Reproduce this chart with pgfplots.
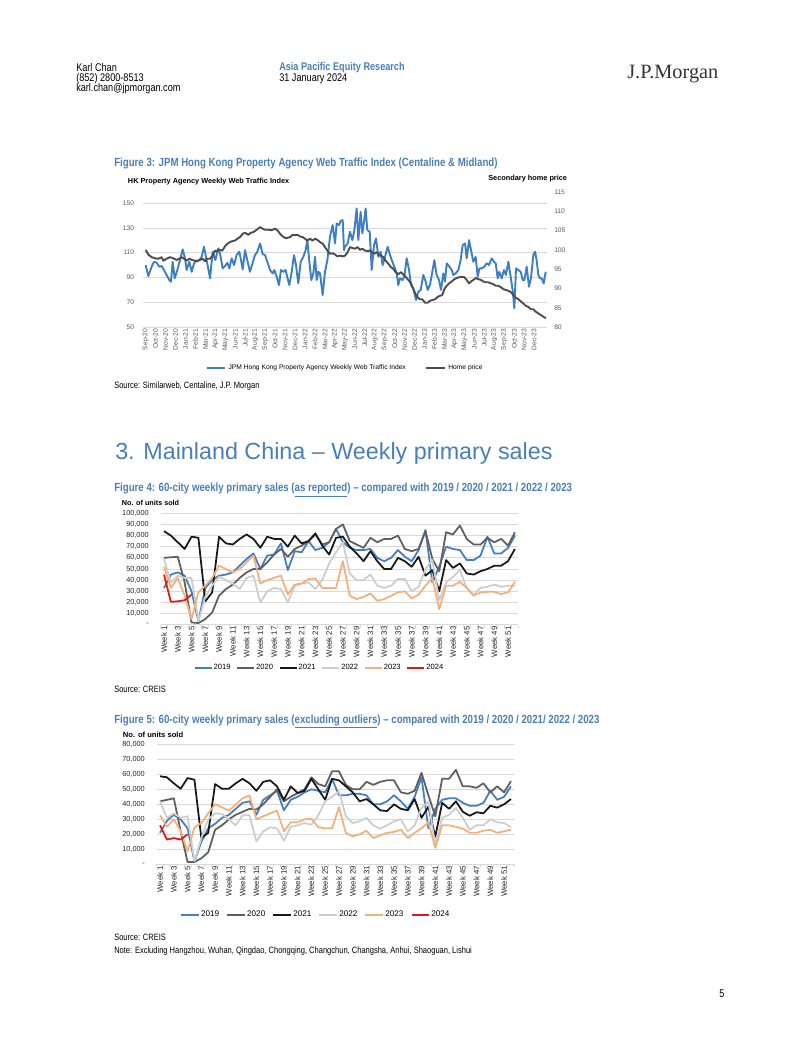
\documentclass[border=0pt]{standalone}
\usepackage{fontspec}
\setmainfont{Liberation Sans}
\newfontfamily\narrow[FakeStretch=0.82]{Liberation Sans}
\newfontfamily\jpserif{Liberation Serif}
\usepackage{pgfplots}
\pgfplotsset{compat=1.18}
\usepackage{pgfplotstable}
\definecolor{jpblue}{RGB}{74,126,187}
\definecolor{c2019}{RGB}{68,126,190}
\definecolor{c2020}{RGB}{95,95,95}
\definecolor{c2021}{RGB}{25,25,25}
\definecolor{c2022}{RGB}{205,205,205}
\definecolor{c2023}{RGB}{244,176,122}
\definecolor{c2024}{RGB}{235,20,20}
\definecolor{webblue}{RGB}{62,126,194}
\definecolor{homegray}{RGB}{77,77,77}
\definecolor{gridgray}{RGB}{217,217,217}
\definecolor{ticklab}{RGB}{89,89,89}

% Figure 3: web traffic index (x = months since Sep-20)
\pgfplotstableread{
m L
0.00 100.0
0.26 91.1
0.60 98.7
0.83 102.7
1.10 101.9
1.37 98.7
1.60 99.2
1.84 96.0
2.10 92.0
2.37 87.9
2.54 86.6
2.71 102.7
2.91 89.3
3.18 96.0
3.44 104.0
3.71 112.7
3.95 105.4
4.11 96.0
4.38 102.7
4.62 94.6
4.85 101.4
5.12 103.5
5.38 104.0
5.62 106.7
5.85 114.8
6.12 104.0
6.46 89.3
6.72 110.8
6.99 104.0
7.29 113.5
7.46 109.4
7.73 97.3
7.96 99.2
8.20 101.9
8.40 97.3
8.63 105.4
8.87 100.0
9.13 108.1
9.40 110.8
9.57 104.0
9.74 96.5
9.97 112.1
10.20 104.0
10.47 94.6
10.74 101.9
10.97 108.1
11.21 110.8
11.48 117.5
11.74 108.9
11.98 108.1
12.21 102.7
12.48 96.0
12.75 93.3
12.92 96.0
13.15 90.6
13.38 83.9
13.58 96.0
13.82 94.6
14.05 96.0
14.22 90.1
14.42 83.9
14.66 94.6
14.89 108.1
15.09 100.0
15.32 85.2
15.56 102.7
15.83 106.7
16.06 112.1
16.23 120.2
16.43 102.7
16.63 87.9
16.83 93.3
17.00 106.7
17.17 87.9
17.33 94.6
17.50 93.3
17.77 75.8
18.00 94.6
18.24 104.0
18.50 122.9
18.77 132.3
19.01 117.5
19.17 133.6
19.41 132.3
19.58 135.8
19.78 136.3
19.91 112.1
20.01 114.8
20.28 117.5
20.51 126.9
20.75 120.2
20.95 128.2
21.18 145.7
21.35 120.2
21.58 143.0
21.75 125.6
21.92 135.0
22.08 145.7
22.25 128.2
22.49 126.9
22.69 96.0
22.92 116.1
23.12 121.5
23.36 106.7
23.59 110.8
23.79 100.0
24.03 106.7
24.29 114.8
24.53 108.1
24.76 102.7
24.96 98.7
25.20 93.3
25.36 83.9
25.53 89.3
25.77 87.9
25.97 90.6
26.20 105.4
26.44 96.0
26.64 83.9
26.87 81.2
27.14 71.8
27.37 78.5
27.61 79.9
27.87 92.0
28.11 86.6
28.31 79.9
28.54 83.9
28.78 94.6
28.98 104.0
29.21 92.0
29.45 87.9
29.65 79.9
29.88 93.3
30.05 86.6
30.22 101.4
30.45 99.2
30.72 96.0
30.89 92.0
31.12 93.3
31.39 96.0
31.62 104.0
31.82 116.1
32.06 117.5
32.23 105.4
32.46 120.2
32.66 112.1
32.89 102.7
33.13 106.7
33.33 90.6
33.50 97.3
33.73 97.3
34.00 98.7
34.23 101.4
34.47 100.0
34.74 105.4
34.97 102.7
35.14 101.4
35.34 89.3
35.50 94.6
35.74 89.3
35.97 96.0
36.17 92.0
36.41 102.7
36.64 90.6
36.84 79.9
37.01 65.1
37.18 97.3
37.41 96.0
37.65 94.6
37.85 87.9
38.02 87.9
38.25 98.7
38.48 82.5
38.68 89.3
38.92 108.1
39.09 110.8
39.25 104.0
39.42 92.0
39.59 89.3
39.76 89.3
39.96 85.2
40.16 94.6
}\webtraffic

% Figure 3: secondary home price (right axis)
\pgfplotstableread{
m R
0.00 100.0
0.26 98.8
0.60 98.1
0.93 97.8
1.27 97.7
1.60 98.1
1.77 97.2
2.10 97.7
2.44 98.1
2.77 97.8
3.11 97.4
3.38 97.7
3.61 98.1
3.85 97.7
4.11 97.2
4.38 97.7
4.62 97.4
4.95 97.2
5.18 97.05
5.45 97.4
5.72 97.7
5.95 97.05
6.12 97.7
6.46 97.7
6.72 98.5
6.96 99.8
7.19 99.7
7.46 100.0
7.69 99.8
7.96 100.9
8.20 101.6
8.46 102.0
8.73 102.3
8.97 102.4
9.20 102.9
9.47 103.3
9.74 104.2
10.00 104.4
10.30 103.9
10.54 104.4
10.81 104.6
11.14 105.2
11.48 105.9
11.74 105.5
11.98 105.2
12.31 105.2
12.65 105.1
12.98 105.5
13.22 105.1
13.48 104.2
13.75 103.5
13.99 103.1
14.22 103.1
14.49 103.3
14.76 103.9
14.99 103.8
15.22 103.9
15.49 103.5
15.76 103.3
15.99 102.9
16.23 102.4
16.50 102.9
16.76 102.4
17.00 102.9
17.23 102.6
17.50 102.0
17.77 101.6
18.00 100.7
18.24 99.8
18.50 99.0
18.77 99.1
19.01 98.8
19.24 98.3
19.51 98.5
19.78 98.3
20.01 98.5
20.28 99.4
20.51 100.7
20.75 100.5
21.01 100.3
21.28 100.7
21.52 100.0
21.75 100.3
22.02 99.8
22.29 99.7
22.52 99.8
22.75 99.4
22.95 99.0
23.19 99.4
23.36 98.8
23.62 98.5
23.86 98.1
24.09 97.2
24.36 96.4
24.63 95.5
24.86 95.1
25.10 94.2
25.36 93.7
25.63 94.2
25.87 93.6
26.10 93.0
26.37 92.2
26.64 91.3
26.87 89.8
27.10 88.5
27.31 87.6
27.54 87.2
27.77 87.2
28.04 86.3
28.31 86.3
28.54 86.8
28.78 87.0
29.05 87.2
29.31 87.8
29.55 88.1
29.78 88.3
29.98 89.8
30.22 90.7
30.45 91.3
30.72 91.8
30.99 92.4
31.22 92.7
31.46 92.9
31.72 93.0
31.99 92.9
32.23 92.2
32.46 91.3
32.66 91.8
32.89 92.2
33.13 92.7
33.40 92.4
33.66 92.2
33.90 91.8
34.13 91.6
34.40 91.6
34.67 91.3
34.90 91.1
35.14 90.7
35.40 90.7
35.67 90.3
35.91 89.8
36.14 89.6
36.41 89.4
36.68 89.0
36.91 88.3
37.15 87.6
37.41 87.2
37.68 86.6
37.91 86.1
38.15 85.5
38.42 85.2
38.68 84.6
38.92 84.6
39.15 84.0
39.42 83.5
39.69 83.1
39.96 82.6
40.19 82.3
}\homeprice

% Figure 4: 60-city weekly primary sales, as reported (thousand units)
\pgfplotstableread{
wk a2019 a2020 a2021 a2022 a2023
1 33 60 84 59 52
2 45 60.5 80 38 33
3 47 61 74 44 42
4 44 38 68 42 26
5 30 2 79 42 5
6 3 1.5 78 3 29
7 33 5 21 25 35
8 40 11 29 35 42
9 44 26 79 43 53
10 45 32 73 40 50
11 47 36 72 37 47
12 53 42 77 32 50
13 59 47 81 42 56
14 64 50 77 44 62
15 50 50 69 20 37
16 62 56 79 30 40
17 63 63 77 33 42
18 73 68 77 32 44
19 49 61 70 20 27
20 66 68 80 35 36
21 65 71 73 37 37
22 75 75 75 38 41
23 67 81 82 32 41.5
24 69 72 71 40 33
25 74 74 63 55 33
26 86 86 78 65 33
27 74 90 79 74 57
28 69 75 70 46 26
29 67 72 64 40 23
30 67 69 57 40 25
31 68 78 66 45 28
32 60 74 57 35 21.5
33 57 77 50 33 23
34 60 77 50 35 26
35 67 80 60 41 29
36 61 68 57 41 30
37 57 66 52 30 23.6
38 67 68 61 34 27
39 85 84 44 50 35
40 38 59 49 58 42
41 52 48 30 22 14
42 70 83 58 38 35
43 68 81 51 43 35
44 67 89 55 49 38.5
45 58 77 46 33 33
46 58 72 45 27 26
47 62 72 48 33 29
48 79 78 50 34 29.5
49 64 74 53 36 29.5
50 64 77 53 34 27.5
51 69 71 57 35 29
52 80 83 68 35 38.5
}\figfour
\pgfplotstableread{
wk a2024
1 45
2 20.5
3 21
4 22
5 27
}\figfourb

% Figure 5: excluding outliers (thousand units)
\pgfplotstableread{
wk a2019 a2020 a2021 a2022 a2023
1 21 42 58.7 42 32.7
2 29 43 58 31 25
3 33 44 54 34 30
4 30 22 50.4 31 22
5 24 1.5 57.5 32 8.7
6 2 1.5 56.4 2 24.7
7 15 4 17.5 17.5 27.5
8 24 8 21 30 34
9 27 23 53.5 34 40
10 31 26 50.4 33.6 38
11 33 30 50.4 30 35.8
12 37 33 54 26 39.8
13 41 35 57 32.7 44
14 42 37 54 32.7 46
15 33 36.5 49 15.3 30
16 43 40 55 22 32
17 46 45 56 24.7 34
18 49 50 52 24 35.8
19 36 42 43 15.8 22
20 43 45 52 25 28
21 45 47.5 47.5 26 28
22 48 50 49 27.5 30
23 50 58 57 26.4 30.4
24 49 53.5 50 32.7 24.7
25 48 52 43 42 24
26 57 62 57 45 24
27 46 62 56 48.7 38
28 46 53 52 32 21
29 47 50 48 27.5 18.7
30 47 50 42 28.7 20
31 46 55 43.5 31 22.4
32 40 53 40 26 17.5
33 40 55 36 23.8 19.3
34 42 56 35.5 26 21
35 46 56 40 28.7 21.6
36 42 48 37 30 23
37 37 47 36 22 17.5
38 45 49 43.5 26 21
39 58 61 31 37.5 24
40 24 46 38.4 42 28
41 37 32 18.4 13 11
42 43 57 41 31 26
43 44 57 37 33 26
44 44 63 42 37.5 25
45 41 52 35 31 23.8
46 39 52 32.4 23 21
47 39 51 34.7 26 21
48 41 54 34 26 22.4
49 49 48 39 30 23
50 43 52 37.8 28 21
51 45 48 40 27.5 22
52 52 55.5 43.5 24.7 23
}\figfive
\pgfplotstableread{
wk a2024
1 26
2 16.5
3 17.5
4 16.5
5 20
}\figfiveb

\pgfplotsset{
  weekaxis/.style={
    scale only axis, width=273.03pt,
    xmin=0.5, xmax=52.5, ymin=0,
    axis line style={draw=none},
    major tick length=0pt,
    tick pos=left,
    xtick={1,3,...,51},
    xticklabels={Week 1,Week 3,Week 5,Week 7,Week 9,Week 11,Week 13,Week 15,Week 17,Week 19,Week 21,Week 23,Week 25,Week 27,Week 29,Week 31,Week 33,Week 35,Week 37,Week 39,Week 41,Week 43,Week 45,Week 47,Week 49,Week 51},
    xticklabel style={rotate=90, anchor=east, font=\fontsize{6}{6.5}\selectfont, text=black!85, inner sep=1pt},
    yticklabel style={font=\fontsize{5.6}{6}\selectfont, text=black!85, xshift=-5.5pt},
    ymajorgrids, grid style={gridgray, line width=0.6pt},
    extra x ticks={0.5,1.5,...,52.5}, extra x tick labels={},
    extra x tick style={grid=none, major tick length=2.2pt, tick align=outside, tick style={gridgray, line width=0.6pt}},
    every axis plot/.append style={line width=1.35pt, line join=round, mark=none},
    legend columns=6,
    legend image code/.code={\draw[#1] (0pt,0pt) -- (13pt,0pt);},
    legend style={draw=none, fill=none, font=\fontsize{5.8}{6}\selectfont, inner sep=0pt,
      nodes={inner sep=0.8pt}},
    clip=false,
  }
}

\begin{document}
\begin{tikzpicture}
\useasboundingbox (0pt,0pt) rectangle (612pt,-791.32pt);
\begin{scope}[x=0.76309pt, y=-0.76309pt, every node/.style={inner sep=0pt, anchor=base west}]
% header
\node[font=\narrow\fontsize{8.5}{10}\selectfont] at (76,72) {Karl Chan};
\node[font=\narrow\fontsize{8.5}{10}\selectfont] at (76,82) {(852) 2800-8513};
\node[font=\narrow\fontsize{8.5}{10}\selectfont] at (76,92) {karl.chan@jpmorgan.com};
\node[font=\narrow\bfseries\fontsize{8.5}{10}\selectfont, text=jpblue] at (279,71) {Asia Pacific Equity Research};
\node[font=\narrow\fontsize{8.5}{10}\selectfont] at (279,81.5) {31 January 2024};
\node[font=\jpserif\fontsize{15.5}{16}\selectfont, text=black!80] at (627,79) {J.P.Morgan};
% figure 3
\node[font=\narrow\bfseries\fontsize{9}{10}\selectfont, text=jpblue] at (114,167) {Figure 3: JPM Hong Kong Property Agency Web Traffic Index (Centaline \& Midland)};
\node[font=\bfseries\fontsize{5.6}{6}\selectfont] at (127.7,183.3) {HK Property Agency Weekly Web Traffic Index};
\node[font=\bfseries\fontsize{5.6}{6}\selectfont, anchor=base east] at (567.3,181) {Secondary home price};
\node[font=\narrow\fontsize{7}{8}\selectfont] at (114,388) {Source: Similarweb, Centaline, J.P. Morgan};
% section heading
\node[font=\fontsize{17.8}{20}\selectfont, text=jpblue] at (115,459) {3. Mainland China – Weekly primary sales};
% figure 4
\node[font=\narrow\bfseries\fontsize{9}{10}\selectfont, text=jpblue] at (114,491.5) {Figure 4: 60-city weekly primary sales (\underline{as reported}) – compared with 2019 / 2020 / 2021 / 2022 / 2023};
\node[font=\bfseries\fontsize{5.5}{6}\selectfont] at (121.7,505.3) {No. of units sold};
\node[font=\narrow\fontsize{7}{8}\selectfont] at (114,692) {Source: CREIS};
% figure 5
\node[font=\narrow\bfseries\fontsize{9}{10}\selectfont, text=jpblue] at (114,723) {Figure 5: 60-city weekly primary sales (\underline{excluding outliers}) – compared with 2019 / 2020 / 2021/ 2022 / 2023};
\node[font=\bfseries\fontsize{5.8}{6}\selectfont] at (122.7,737.3) {No. of units sold};
\node[font=\narrow\fontsize{7}{8}\selectfont] at (114,940) {Source: CREIS};
\node[font=\narrow\fontsize{7}{8}\selectfont] at (114,953.5) {Note: Excluding Hangzhou, Wuhan, Qingdao, Chongqing, Changchun, Changsha, Anhui, Shaoguan, Lishui};
% page number
\node[font=\narrow\fontsize{8.5}{10}\selectfont] at (719,997) {5};
\end{scope}

% ---------- Figure 3, left axis ----------
\begin{axis}[
  at={(109.35pt,-249.53pt)}, anchor=south west,
  scale only axis, width=308.06pt, height=103.02pt,
  xmin=-0.24, xmax=40.29, ymin=50, ymax=159,
  axis line style={draw=none},
  major tick length=0pt,
  /pgf/number format/assume math mode=true,
  ytick={50,70,...,150},
  ymajorgrids, grid style={gridgray, line width=0.6pt},
  xtick={0,...,39},
  xticklabels={Sep-20,Oct-20,Nov-20,Dec-20,Jan-21,Feb-21,Mar-21,Apr-21,May-21,Jun-21,Jul-21,Aug-21,Sep-21,Oct-21,Nov-21,Dec-21,Jan-22,Feb-22,Mar-22,Apr-22,May-22,Jun-22,Jul-22,Aug-22,Sep-22,Oct-22,Nov-22,Dec-22,Jan-23,Feb-23,Mar-23,Apr-23,May-23,Jun-23,Jul-23,Aug-23,Sep-23,Oct-23,Nov-23,Dec-23},
  xticklabel style={rotate=90, anchor=east, font=\fontsize{5.1}{6}\selectfont, text=ticklab, inner sep=1pt},
  yticklabel style={font=\fontsize{5.1}{6}\selectfont, text=ticklab, xshift=-3.5pt},
  tick pos=left,
]
\addplot[webblue, line width=1.45pt, line join=round, mark=none] table[x=m, y=L] {\webtraffic};
\end{axis}
% ---------- Figure 3, right axis ----------
\begin{axis}[
  at={(109.35pt,-249.53pt)}, anchor=south west,
  scale only axis, width=308.06pt, height=103.02pt,
  xmin=-0.24, xmax=40.29, ymin=80, ymax=115,
  axis line style={draw=none},
  major tick length=0pt,
  /pgf/number format/assume math mode=true,
  axis x line=none,
  axis y line*=right,
  ytick={80,85,...,115},
  yticklabel style={font=\fontsize{5.1}{6}\selectfont, text=ticklab, xshift=2pt},
  legend columns=2,
  legend image code/.code={\draw[#1] (0pt,0pt) -- (14pt,0pt);},
  legend style={at={(0.5006,-0.3037)}, anchor=center, draw=none, fill=none,
    font=\fontsize{5.1}{6}\selectfont, inner sep=0pt,
    /tikz/every even column/.append style={column sep=13pt}},
]
\addlegendimage{webblue, line width=1.45pt}
\addlegendentry{JPM Hong Kong Property Agency Weekly Web Traffic Index}
\addplot[homegray, line width=1.45pt, line join=round, mark=none] table[x=m, y=R] {\homeprice};
\addlegendentry{Home price}
\end{axis}

% ---------- Figure 4 ----------
\begin{axis}[weekaxis,
  at={(122.52pt,-476.70pt)}, anchor=south west, height=85.01pt,
  ymax=100,
  ytick={0,10,...,100},
  yticklabels={{-\hspace{3pt}},{10,000},{20,000},{30,000},{40,000},{50,000},{60,000},{70,000},{80,000},{90,000},{100,000}},
  legend style={at={(0.443,-0.389)}, anchor=center,
    /tikz/every even column/.append style={column sep=3.6pt}},
]
\addplot[c2019] table[x=wk, y=a2019] {\figfour}; \addlegendentry{2019}
\addplot[c2020] table[x=wk, y=a2020] {\figfour}; \addlegendentry{2020}
\addplot[c2021] table[x=wk, y=a2021] {\figfour}; \addlegendentry{2021}
\addplot[c2022] table[x=wk, y=a2022] {\figfour}; \addlegendentry{2022}
\addplot[c2023] table[x=wk, y=a2023] {\figfour}; \addlegendentry{2023}
\addplot[c2024] table[x=wk, y=a2024] {\figfourb}; \addlegendentry{2024}
\end{axis}

% ---------- Figure 5 ----------
\begin{axis}[weekaxis,
  at={(119.50pt,-659.54pt)}, anchor=south west, height=91.57pt,
  ymax=80,
  ytick={0,10,...,80},
  yticklabels={{-\hspace{3pt}},{10,000},{20,000},{30,000},{40,000},{50,000},{60,000},{70,000},{80,000}},
  legend image code/.code={\draw[#1] (0pt,0pt) -- (13.7pt,0pt);},
  legend style={at={(0.444,-0.4225)}, anchor=center, font=\fontsize{6.2}{6.5}\selectfont,
    /tikz/every even column/.append style={column sep=4.7pt}},
]
\addplot[c2019] table[x=wk, y=a2019] {\figfive}; \addlegendentry{2019}
\addplot[c2020] table[x=wk, y=a2020] {\figfive}; \addlegendentry{2020}
\addplot[c2021] table[x=wk, y=a2021] {\figfive}; \addlegendentry{2021}
\addplot[c2022] table[x=wk, y=a2022] {\figfive}; \addlegendentry{2022}
\addplot[c2023] table[x=wk, y=a2023] {\figfive}; \addlegendentry{2023}
\addplot[c2024] table[x=wk, y=a2024] {\figfiveb}; \addlegendentry{2024}
\end{axis}
\end{tikzpicture}
\end{document}
